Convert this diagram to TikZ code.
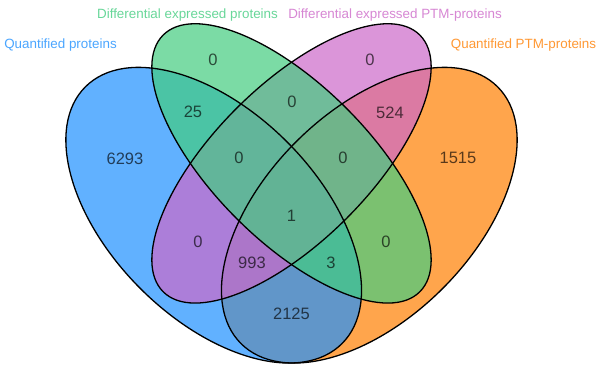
\documentclass[tikz,border=0pt]{standalone}
\usepackage{fontspec}
\setmainfont{Liberation Sans}

\definecolor{qprot}{RGB}{30,144,255}
\definecolor{dprot}{RGB}{67,205,128}
\definecolor{dptm}{RGB}{205,105,201}
\definecolor{qptm}{RGB}{255,127,0}

\begin{document}
\begin{tikzpicture}[x=1pt,y=1pt,
        setlabel/.style={font=\fontsize{13.4}{15}\selectfont,text opacity=0.8},
        count/.style={font=\fontsize{16.5}{18}\selectfont,text=black,text opacity=0.65}]
        % Background
        \useasboundingbox (0,0) rectangle (600,370);
        \fill[white] (0,0) rectangle (600,370);

        % Sets (fill first, outlines after)
        \foreach \col/\cx/\cy/\ang/\rb in {qptm/369.3/154.8/45/103.7,
                                           qprot/213.7/154.8/135/103.7,
                                           dptm/291.5/206.6/45/77.8,
                                           dprot/291.5/206.6/135/77.8} {
            \fill[\col,fill opacity=0.7,rotate around={\ang:(\cx,\cy)}] (\cx,\cy) ellipse (181.5 and \rb);
        }
        \foreach \cx/\cy/\ang/\rb in {369.3/154.8/45/103.7,
                                      213.7/154.8/135/103.7,
                                      291.5/206.6/45/77.8,
                                      291.5/206.6/135/77.8} {
            \draw[line width=1.3pt,rotate around={\ang:(\cx,\cy)}] (\cx,\cy) ellipse (181.5 and \rb);
        }

        % Labels
        \node[setlabel,text=qprot] (lblq) at (60.5,325) {Quantified proteins};
        \node[setlabel,text=dprot] (lbld) at (187.5,355) {Differential expressed proteins};
        \node[setlabel,text=dptm] (lble) at (395,355) {Differential expressed PTM-proteins};
        \node[setlabel,text=qptm] (lblp) at (523.5,325) {Quantified PTM-proteins};

        % Counts
        \node[count] (q) at (125,211) {6293};
        \node[count] (d) at (213,310) {0};
        \node[count] (e) at (370,310) {0};
        \node[count] (p) at (458,212) {1515};
        \node[count] (qd) at (193,258) {25};
        \node[count] (ep) at (390,257) {524};
        \node[count] (de) at (292,268) {0};
        \node[count] (qde) at (239,212) {0};
        \node[count] (dep) at (343,212) {0};
        \node[count] (qdep) at (291.5,154) {1};
        \node[count] (qe) at (198,128) {0};
        \node[count] (dp) at (386,128) {0};
        \node[count] (qep) at (252,107) {993};
        \node[count] (qdp) at (331,107) {3};
        \node[count] (qp) at (291.5,56) {2125};
\end{tikzpicture}
\end{document}
